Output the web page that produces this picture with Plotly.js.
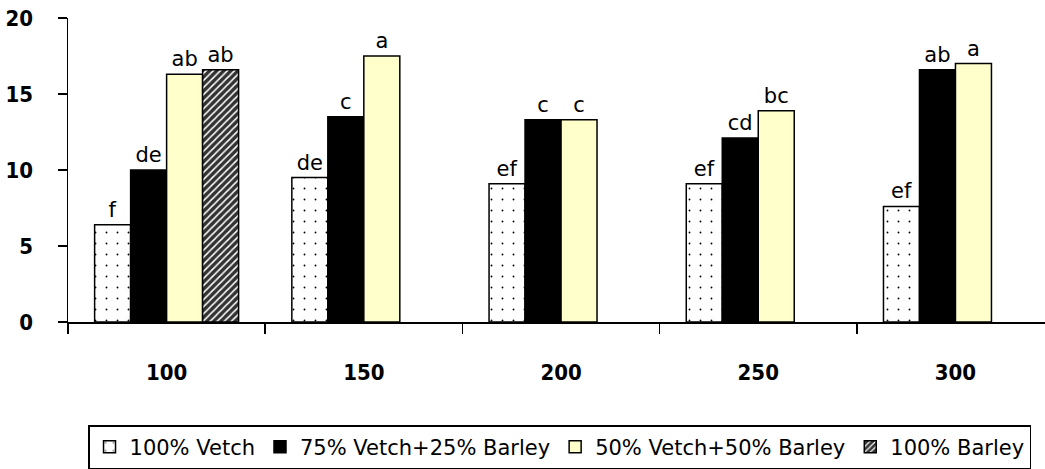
<!DOCTYPE html>
<html>
<head>
<meta charset="utf-8">
<script src="https://cdn.plot.ly/plotly-3.0.1.min.js"></script>
<style>html,body{margin:0;padding:0;background:#fff;overflow:hidden;}</style>
</head>
<body>
<div id="chart" style="width:1045px;height:469px;"></div>
<script>
const categories = ['100', '150', '200', '250', '300'];
const seriesNames = ['100% Vetch', '75% Vetch+25% Barley', '50% Vetch+50% Barley', '100% Barley'];
const vetch100 = [6.4, 9.5, 9.1, 9.1, 7.6];
const vetch75barley25 = [10.0, 13.5, 13.3, 12.1, 16.6];
const vetch50barley50 = [16.3, 17.5, 13.3, 13.9, 17.0];
const barley100 = [16.6, null, null, null, null];
const letters100Vetch = ['f', 'de', 'ef', 'ef', 'ef'];
const letters75Vetch = ['de', 'c', 'c', 'cd', 'ab'];
const letters50Vetch = ['ab', 'a', 'c', 'bc', 'a'];
const letters100Barley = ['ab', '', '', '', ''];
const yTicks = [0, 5, 10, 15, 20];

const FONT = 'DejaVu Sans, sans-serif';
const TICKFONT = 'DejaVu Sans Condensed, DejaVu Sans, sans-serif';
const common = {
  type: 'bar',
  x: categories,
  textposition: 'outside',
  cliponaxis: false,
  constraintext: 'none',
  textfont: {family: FONT, size: 21, color: '#000'},
  hoverinfo: 'skip'
};

const traces = [
  Object.assign({}, common, {
    name: seriesNames[0], y: vetch100, text: letters100Vetch,
    marker: {color: '#ffffff', line: {color: '#000', width: 1.5},
      pattern: {shape: '.', fgcolor: '#000', bgcolor: '#ffffff', size: 11, solidity: 0.022}}
  }),
  Object.assign({}, common, {
    name: seriesNames[1], y: vetch75barley25, text: letters75Vetch,
    marker: {color: '#000000', line: {color: '#000', width: 1.5}}
  }),
  Object.assign({}, common, {
    name: seriesNames[2], y: vetch50barley50, text: letters50Vetch,
    marker: {color: '#ffffcc', line: {color: '#000', width: 1.5}}
  }),
  Object.assign({}, common, {
    name: seriesNames[3], y: barley100, text: letters100Barley,
    marker: {color: '#333333', line: {color: '#000', width: 1.5},
      pattern: {shape: '/', fgcolor: '#ffffff', bgcolor: '#333333', size: 5, solidity: 0.3}}
  })
];

const layout = {
  width: 1045, height: 469,
  margin: {l: 68, r: 0, t: 18, b: 146},
  paper_bgcolor: '#fff', plot_bgcolor: '#fff',
  barmode: 'group', bargap: 0.27, bargroupgap: 0,
  font: {family: FONT, color: '#000'},
  showlegend: true,
  legend: {
    orientation: 'h', x: 0.0205, xanchor: 'left', y: -0.339, yanchor: 'top',
    bordercolor: '#000', borderwidth: 1.5, bgcolor: '#fff',
    font: {family: FONT, size: 21, color: '#000'},
    itemwidth: 30, tracegroupgap: 0
  },
  xaxis: {
    type: 'category', range: [-0.5, 4.454], fixedrange: true,
    showline: true, linecolor: '#000', linewidth: 1.5,
    ticks: 'outside', tickson: 'boundaries', ticklen: 10, tickwidth: 1.5, tickcolor: '#000',
    tickfont: {family: TICKFONT, size: 22, color: '#000', weight: 'bold'},
    ticklabelstandoff: 30, showgrid: false, zeroline: false
  },
  yaxis: {
    range: [0, 20], tickvals: yTicks, ticktext: yTicks.map(String), fixedrange: true,
    showline: true, linecolor: '#000', linewidth: 1.5,
    ticks: 'outside', ticklen: 9, tickwidth: 1.5, tickcolor: '#000',
    tickfont: {family: TICKFONT, size: 22, color: '#000', weight: 'bold'},
    ticklabelstandoff: 20, showgrid: false, zeroline: false
  }
};

Plotly.newPlot('chart', traces, layout, {displayModeBar: false, staticPlot: true});
</script>
</body>
</html>
